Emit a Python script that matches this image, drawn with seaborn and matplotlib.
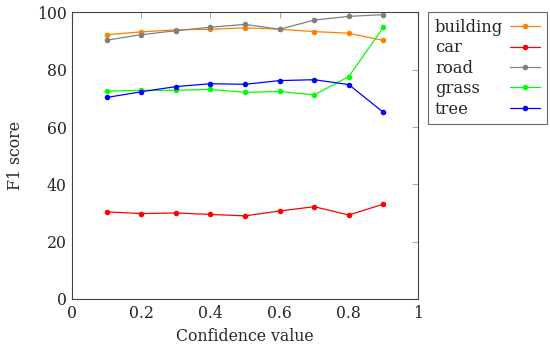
import pandas as pd
import seaborn as sns
import matplotlib.pyplot as plt

conf = [0.1, 0.2, 0.3, 0.4, 0.5, 0.6, 0.7, 0.8, 0.9]
building = [92.2, 93.2, 93.9, 94.1, 94.6, 94.1, 93.3, 92.7, 90.2]
car = [30.4, 29.8, 30.0, 29.5, 29.0, 30.7, 32.2, 29.3, 33.1]
road = [90.3, 92.2, 93.6, 94.8, 95.8, 94.1, 97.3, 98.6, 99.2]
grass = [72.5, 72.8, 72.8, 73.1, 72.1, 72.4, 71.2, 77.6, 94.8]
tree = [70.3, 72.3, 74.1, 75.1, 74.9, 76.2, 76.5, 74.8, 65.1]

classes = ["building", "car", "road", "grass", "tree"]
colors = ["#ff8000", "#ff0000", "#808080", "#00ff00", "#0000ff"]

series = dict(zip(classes, [building, car, road, grass, tree]))
df = pd.concat([pd.DataFrame({"conf": conf, "f1": v, "cls": k}) for k, v in series.items()])

sns.set_style("white")
plt.rcParams['font.family'] = ['DejaVu Serif']

fig = plt.figure(figsize=(5.5, 3.53), dpi=100)
ax = fig.add_axes([0.131, 0.153, 0.629, 0.812])

sns.lineplot(data=df, x="conf", y="f1", hue="cls", hue_order=classes,
             palette=colors, marker="o", markersize=4, markeredgewidth=0,
             linewidth=0.9, ax=ax)

ax.set_xlim(0, 1)
ax.set_ylim(0, 100)
ax.set_xticks([0, 0.2, 0.4, 0.6, 0.8, 1])
ax.set_xticklabels(["0", "0.2", "0.4", "0.6", "0.8", "1"])
ax.set_yticks([0, 20, 40, 60, 80, 100])
ax.tick_params(direction="in", length=4, color="#aaaaaa", top=True, right=True,
               labelsize=11.3, pad=4)
for s in ax.spines.values():
    s.set_color("#444444")
    s.set_linewidth(0.8)
ax.set_xlabel("Confidence value", fontsize=11.3, labelpad=5)
ax.set_ylabel("F1 score", fontsize=11.3, labelpad=9)

handles, labels = ax.get_legend_handles_labels()
leg = ax.legend(handles, labels, loc="upper left", bbox_to_anchor=(1.03, 1.0),
                markerfirst=False, frameon=True, fancybox=False, fontsize=11.8,
                handlelength=1.85, labelspacing=0.21, borderpad=0.4,
                handletextpad=0.4, borderaxespad=0)
leg.get_frame().set_edgecolor("#444444")
leg.get_frame().set_linewidth(0.8)

# left-align labels, keep line samples aligned at the right
fig.canvas.draw()
r = fig.canvas.get_renderer()
widths = [t.get_window_extent(r).width * 72 / fig.dpi for t in leg.get_texts()]
wmax = max(widths)
for col in leg._legend_handle_box.get_children():
    col.align = "left"
    for row, w in zip(col.get_children(), widths):
        row.sep = row.sep + (wmax - w)

fig.savefig("out.png", dpi=100)
